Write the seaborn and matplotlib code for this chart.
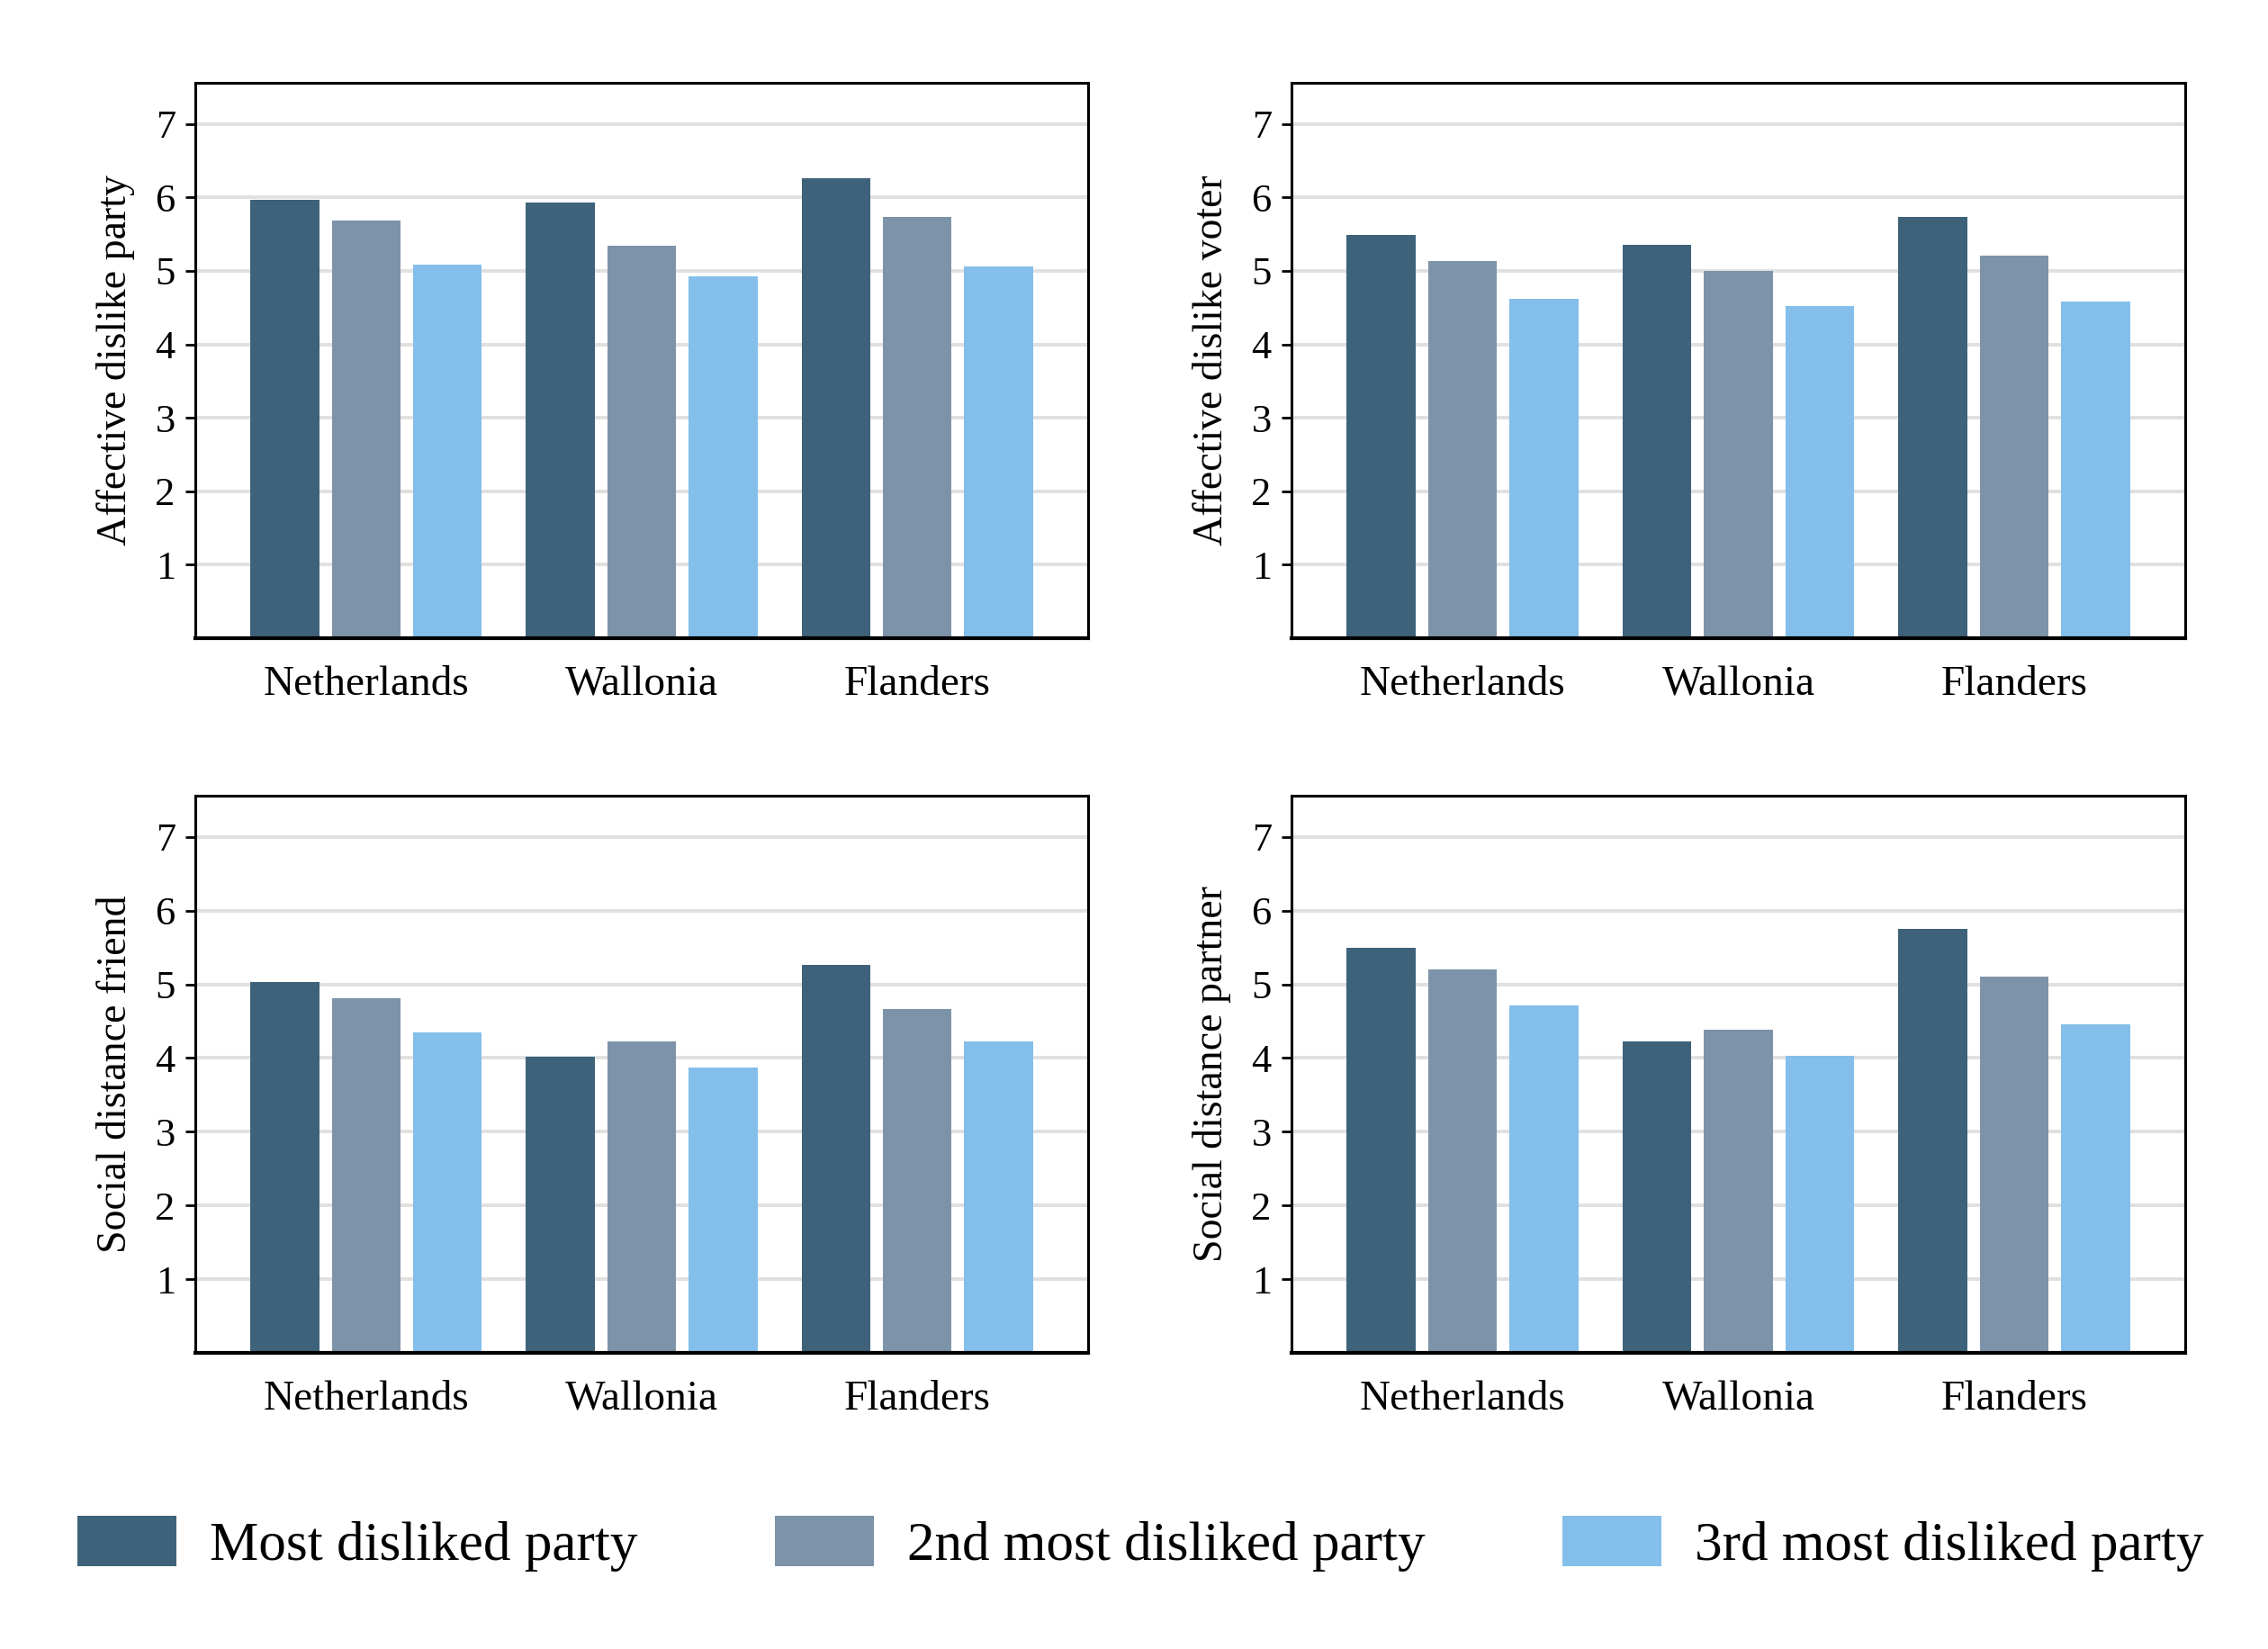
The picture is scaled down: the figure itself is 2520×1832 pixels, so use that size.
import numpy as np
import pandas as pd
import matplotlib
matplotlib.use("Agg")
import matplotlib.pyplot as plt
import matplotlib.patches as mpatches
import seaborn as sns

regions = ["Netherlands", "Wallonia", "Flanders"]
ranks = ["Most disliked party", "2nd most disliked party", "3rd most disliked party"]
colors = ["#3e627a", "#7d93aa", "#83bfea"]

# values per region: [most, 2nd, 3rd]
dislike_party = [[5.97, 5.68, 5.09], [5.93, 5.34, 4.92], [6.26, 5.73, 5.06]]
dislike_voter = [[5.49, 5.14, 4.62], [5.36, 5.00, 4.52], [5.73, 5.21, 4.58]]
distance_friend = [[5.03, 4.81, 4.35], [4.02, 4.22, 3.87], [5.26, 4.67, 4.23]]
distance_partner = [[5.49, 5.20, 4.72], [4.23, 4.38, 4.03], [5.75, 5.10, 4.46]]

panels = [
    ("Affective dislike party", dislike_party),
    ("Affective dislike voter", dislike_voter),
    ("Social distance friend", distance_friend),
    ("Social distance partner", distance_partner),
]

sns.set_style("white")
plt.rcParams["font.family"] = ["Liberation Serif", "DejaVu Serif"]
plt.rcParams["text.color"] = "black"
plt.rcParams["axes.labelcolor"] = "black"
plt.rcParams["xtick.color"] = "black"
plt.rcParams["ytick.color"] = "black"

W, H = 2520, 1832
fig = plt.figure(figsize=(W / 200, H / 200), dpi=200)

boxes = [
    (217, 92, 1209, 709),
    (1435, 92, 2428, 709),
    (217, 884, 1209, 1503),
    (1435, 884, 2428, 1503),
]


def to_long(vals):
    rows = []
    for r, row in zip(regions, vals):
        for k, v in zip(ranks, row):
            rows.append({"region": r, "rank": k, "value": v})
    return pd.DataFrame(rows)


for (label, vals), (x0, y0, x1, y1) in zip(panels, boxes):
    ax = fig.add_axes([x0 / W, 1 - y1 / H, (x1 - x0) / W, (y1 - y0) / H])
    df = to_long(vals)
    sns.barplot(data=df, x="region", y="value", hue="rank", hue_order=ranks,
                palette=colors, width=0.886, gap=0.157, saturation=1,
                edgecolor="none", legend=False, ax=ax)
    ax.set_xlim(-0.62, 2.62)
    ax.set_ylim(0, 7.56)
    ax.set_yticks(range(1, 8))
    ax.yaxis.grid(True, color="#e0e0e0", lw=1.4)
    ax.set_axisbelow(True)
    for s in ax.spines.values():
        s.set_visible(True)
        s.set_color("black")
        s.set_linewidth(1.1)
    ax.spines["bottom"].set_linewidth(1.5)
    ax.tick_params(axis="y", length=4, width=1, direction="out", pad=4,
                   labelsize=16, left=True)
    ax.tick_params(axis="x", length=0, pad=11, labelsize=17)
    ax.set_xlabel("")
    ax.set_ylabel(label, fontsize=16.5, labelpad=8)

handles = [mpatches.Patch(facecolor=c, edgecolor="none", label=k)
           for c, k in zip(colors, ranks)]
fig.legend(handles=handles, loc="center", bbox_to_anchor=(0.503, 0.064),
           ncol=3, frameon=False, fontsize=22, handlelength=1.8,
           handleheight=1.05, handletextpad=0.6, columnspacing=2.5)

fig.savefig("out.png", dpi=200)
